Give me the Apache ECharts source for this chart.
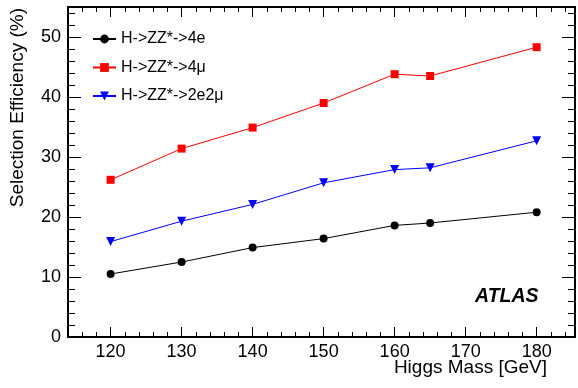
<!DOCTYPE html>
<html>
<head>
<meta charset="utf-8">
<script src="https://cdn.jsdelivr.net/npm/echarts@6/dist/echarts.min.js"></script>
<style>html,body{margin:0;padding:0;background:#fff}#c{width:578px;height:388px}</style>
</head>
<body>
<div id="c"></div>
<script>
const masses = [120, 130, 140, 150, 160, 165, 180];
const eff4e = [10.5, 12.5, 14.9, 16.4, 18.6, 19.0, 20.8];
const eff4mu = [26.2, 31.4, 34.9, 39.0, 43.8, 43.5, 48.3];
const eff2e2mu = [15.9, 19.3, 22.1, 25.7, 27.9, 28.2, 32.7];
const seriesNames = ['H->ZZ*->4e', 'H->ZZ*->4\u03bc', 'H->ZZ*->2e2\u03bc'];
const xMajor = [120, 130, 140, 150, 160, 170, 180];
const xMinor = [116, 118, 122, 124, 126, 128, 132, 134, 136, 138, 142, 144, 146, 148, 152, 154, 156, 158, 162, 164, 166, 168, 172, 174, 176, 178, 182, 184];
const yMajor = [0, 10, 20, 30, 40, 50];
const yMinor = [2, 4, 6, 8, 12, 14, 16, 18, 22, 24, 26, 28, 32, 34, 36, 38, 42, 44, 46, 48, 52, 54];

const FONT = 'Liberation Sans, Arial, Helvetica, sans-serif';
const XMIN = 114, XMAX = 185.4, YMIN = 0, YMAX = 55;

function pairs(xs, ys) { return xs.map((x, i) => [x, ys[i]]); }

function xAx(pos, ticks, len, showLine, labels) {
  return {
    type: 'value', position: pos, min: XMIN, max: XMAX,
    axisLine: { show: showLine, onZero: false, lineStyle: { color: '#000', width: 2 } },
    axisTick: { show: true, inside: true, length: len, customValues: ticks, lineStyle: { color: '#000', width: 1 } },
    axisLabel: labels ? { show: true, customValues: xMajor, color: '#000', fontSize: 18, fontFamily: FONT, margin: 6 } : { show: false },
    splitLine: { show: false }
  };
}
function yAx(pos, ticks, len, showLine, labels) {
  return {
    type: 'value', position: pos, min: YMIN, max: YMAX,
    axisLine: { show: showLine, onZero: false, lineStyle: { color: '#000', width: 2 } },
    axisTick: { show: true, inside: true, length: len, customValues: ticks, lineStyle: { color: '#000', width: 1 } },
    axisLabel: labels ? { show: true, customValues: yMajor, color: '#000', fontSize: 18, fontFamily: FONT, margin: 7 } : { show: false },
    splitLine: { show: false }
  };
}

const downTri = 'path://M0,0 L10,0 L5,9 Z';
const colors = ['#000000', '#ff0000', '#0000ff'];
const symbols = ['circle', 'rect', downTri];
const sizes = [8, 8, 9];
const datasets = [eff4e, eff4mu, eff2e2mu];

const chart = echarts.init(document.getElementById('c'), null, { renderer: 'canvas' });
chart.setOption({
  animation: false,
  backgroundColor: '#fff',
  grid: { left: 68, right: 3, top: 7, bottom: 51, containLabel: false },
  xAxis: [
    xAx('bottom', xMajor, 10, true, true),
    xAx('bottom', xMinor, 5, false, false),
    xAx('top', xMajor, 10, true, false),
    xAx('top', xMinor, 5, false, false)
  ],
  yAxis: [
    yAx('left', yMajor, 13, true, true),
    yAx('left', yMinor, 7, false, false),
    yAx('right', yMajor, 13, true, false),
    yAx('right', yMinor, 7, false, false)
  ],
  legend: {
    show: true, orient: 'vertical', left: 92, top: 30, padding: 0,
    itemWidth: 23, itemHeight: 11, itemGap: 10.5,
    data: seriesNames,
    textStyle: { color: '#000', fontSize: 16, fontFamily: FONT, lineHeight: 18 }
  },
  series: datasets.map((d, i) => ({
    name: seriesNames[i], type: 'line', xAxisIndex: 0, yAxisIndex: 0,
    data: pairs(masses, d),
    symbol: symbols[i], symbolSize: sizes[i], showSymbol: true,
    lineStyle: { color: colors[i], width: 1 },
    itemStyle: { color: colors[i], borderWidth: 0 },
    z: 3
  })),
  graphic: [
    { type: 'text', x: 547, y: 368, style: { text: 'Higgs Mass [GeV]', fill: '#000', font: '19px ' + FONT, textAlign: 'right', textVerticalAlign: 'middle' } },
    { type: 'text', x: 18, y: 8, rotation: Math.PI / 2, style: { text: 'Selection Efficiency (%)', fill: '#000', font: '19px ' + FONT, textAlign: 'right', textVerticalAlign: 'middle' } },
    { type: 'text', x: 475, y: 297, style: { text: 'ATLAS', fill: '#000', font: 'italic bold 19.5px ' + FONT, textAlign: 'left', textVerticalAlign: 'middle' } }
  ]
});
</script>
</body>
</html>
